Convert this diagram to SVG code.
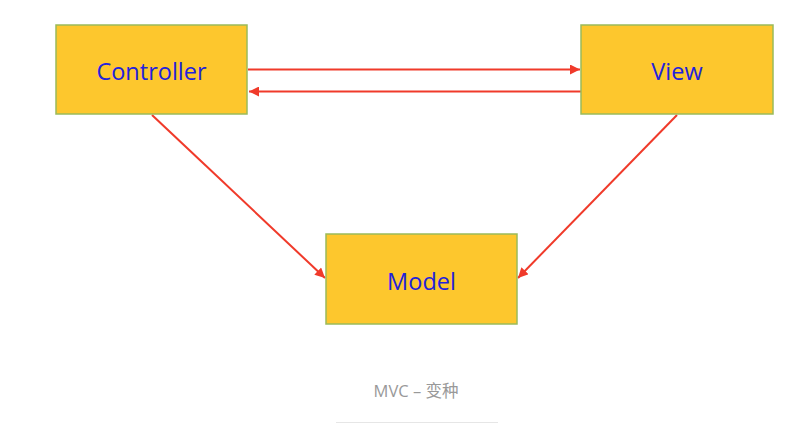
<svg xmlns="http://www.w3.org/2000/svg" width="806" height="443" viewBox="0 0 806 443">
<style>
.box{fill:#fdc72d;stroke:#9bbb59;stroke-width:1.5}
.lbl{font-family:"Open Sans","Liberation Sans",sans-serif;font-size:23.5px;fill:#2222dd;text-anchor:middle;dominant-baseline:central}
.arr{stroke:#f03a2a;stroke-width:2;fill:none;marker-end:url(#ah)}
.cap{font-family:"Open Sans","Noto Sans CJK SC",sans-serif;font-size:16.5px;fill:#999;text-anchor:middle}
</style>
<defs>
<marker id="ah" viewBox="0 0 10 10" refX="10" refY="5" markerWidth="5.5" markerHeight="5" orient="auto" markerUnits="strokeWidth">
<path d="M0,0 L10,5 L0,10 z" fill="#f03a2a"/>
</marker>
</defs>
<rect width="806" height="443" fill="#fff"/>
<g id="connectors">
<line class="arr" x1="248" y1="69.5" x2="580" y2="69.5"/>
<line class="arr" x1="581" y1="91.5" x2="249" y2="91.5"/>
<line class="arr" x1="152" y1="115" x2="325" y2="278"/>
<line class="arr" x1="677" y1="115" x2="518" y2="278"/>
</g>
<g id="controller">
<rect class="box" x="56" y="25" width="191" height="89"/>
<text class="lbl" x="151.5" y="71">Controller</text>
</g>
<g id="view">
<rect class="box" x="581" y="25" width="192" height="89"/>
<text class="lbl" x="677" y="71">View</text>
</g>
<g id="model">
<rect class="box" x="326" y="234" width="191" height="90"/>
<text class="lbl" x="421.5" y="281">Model</text>
</g>
<text class="cap" x="416" y="397">MVC – 变种</text>
<line x1="336" y1="422.5" x2="498" y2="422.5" stroke="#e6e6e6" stroke-width="1"/>
</svg>
